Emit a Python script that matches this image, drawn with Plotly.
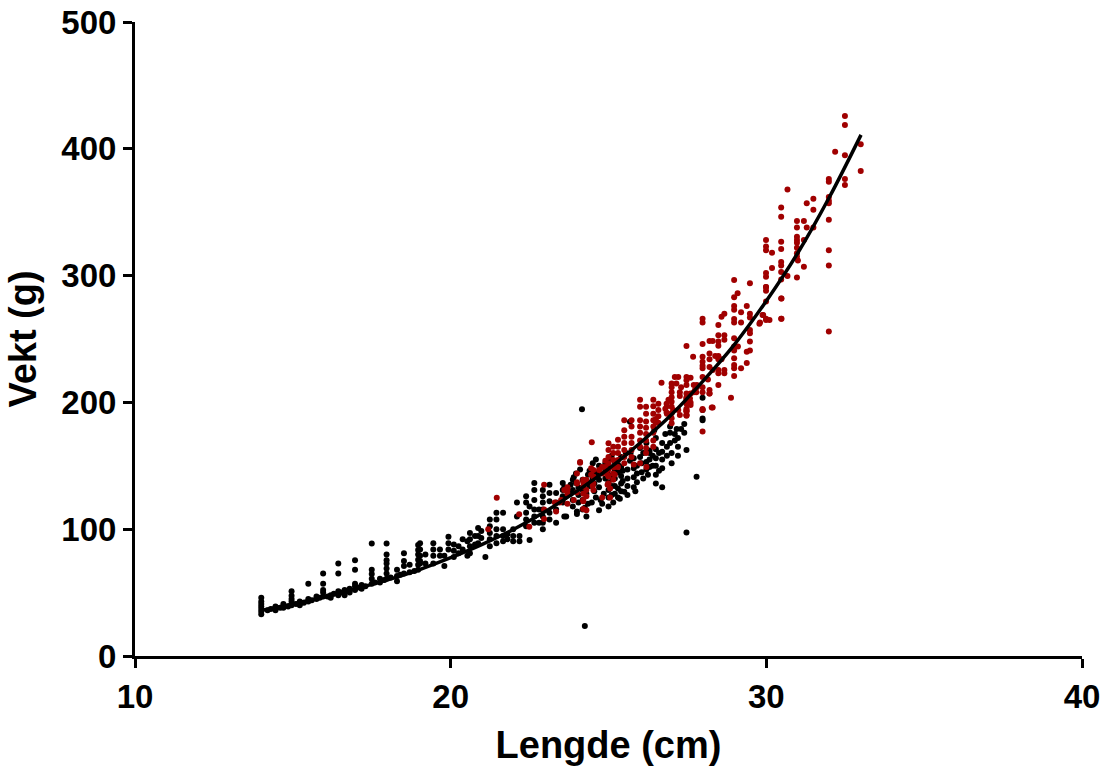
import plotly.graph_objects as go

# ---- data ----
black_len = [
    14.0, 14.0, 14.0, 14.0, 14.0, 14.0, 14.0,
    14.2, 14.3, 14.45, 14.45, 14.6, 14.7, 14.7, 14.85,
    14.96, 14.96, 14.96, 14.96, 14.96,
    15.1, 15.22, 15.22, 15.35, 15.49, 15.49, 15.49, 15.6,
    15.75, 15.75, 15.85, 15.96, 15.96, 15.96, 15.96, 15.96,
    16.1, 16.2, 16.2, 16.3, 16.44, 16.44, 16.44, 16.44, 16.55,
    16.64, 16.64, 16.8, 16.8, 16.97, 16.97, 16.97, 16.97, 16.97,
    17.1, 17.18, 17.18, 17.3, 17.5, 17.5, 17.5, 17.5, 17.5,
    17.6, 17.76, 17.76, 17.9, 17.97, 17.97, 17.97, 17.97, 17.97, 17.97, 17.97,
    18.1, 18.3, 18.3, 18.3, 18.4, 18.52, 18.52, 18.52, 18.52, 18.7, 18.7,
    18.85, 18.97, 18.97, 18.97, 18.97, 18.97, 18.97, 19.2, 19.2,
    19.03, 19.03, 19.03, 19.03, 19.03,
    19.45, 19.45, 19.45, 19.45,
    19.66, 19.66, 19.8, 19.8,
    19.93, 19.93, 19.93,
    20.1, 20.1, 20.1, 20.25, 20.25, 20.38, 20.38,
    20.53, 20.53, 20.61, 20.61, 20.61, 20.61,
    20.77, 20.77, 20.87, 20.87, 20.87, 20.97, 20.97,
    21.1, 21.24, 21.24, 21.24, 21.24, 21.24,
    21.45, 21.45, 21.45, 21.45, 21.45,
    21.66, 21.66, 21.66, 21.66, 21.8, 21.8,
    21.98, 21.98, 21.98, 22.1, 22.1, 22.18, 22.18,
    22.39, 22.39, 22.39, 22.39, 22.39, 22.5, 22.5,
    22.65, 22.65, 22.65, 22.65, 22.65, 22.65,
    22.8, 22.8,
    22.92, 22.92, 22.92, 22.92, 22.92, 22.92, 22.92,
    23.13, 23.13, 23.13, 23.13, 23.13,
    23.34, 23.34, 23.34, 23.34,
    23.55, 23.55, 23.55, 23.55, 23.66,
    23.87, 23.87, 23.87, 23.87, 23.97, 23.97,
    24.18, 24.18, 24.18, 24.18, 24.16,
    24.25,
    24.3, 24.0, 24.0, 23.6, 24.25, 24.47, 24.7, 24.8,
    24.3, 24.4, 24.4, 24.5, 24.5, 24.6, 24.7, 24.7, 24.7, 24.7,
    24.85, 25.0, 25.0, 25.0, 25.0, 25.0, 25.0, 25.0,
    25.15, 25.2, 25.2, 25.2, 25.2, 25.2,
    25.36, 25.4, 25.4, 25.4, 25.4, 25.4,
    25.5, 25.6, 25.6, 25.6, 25.6, 25.68, 25.68, 25.7,
    25.85, 25.9, 25.9, 25.9, 26.0, 26.0,
    26.1, 26.2, 26.2, 26.3, 26.3, 26.3, 26.3, 26.2,
    26.5, 26.7, 26.5, 26.5, 26.5, 26.5, 26.5, 26.45,
    26.7, 26.7, 26.7, 26.7,
    26.95, 26.95, 26.95, 27.0, 27.0,
    27.16, 27.2, 27.2, 27.2, 27.3,
    27.47, 27.47, 27.79,
    27.98, 27.98, 27.98, 27.98,
    23.6, 23.6, 23.8, 23.8, 23.9, 24.05, 24.05, 24.05, 24.1,
    24.35, 24.35, 24.35, 24.55, 24.55, 24.6, 24.6, 24.75,
    24.9, 24.9, 24.9, 25.1, 25.1, 25.1, 25.1,
    25.3, 25.3, 25.3, 25.3, 25.45, 25.45, 25.55,
    25.8, 25.8, 25.8, 25.8, 26.05, 26.05, 26.1, 26.25,
    26.4, 26.4, 26.6, 26.6, 26.85, 26.85, 27.1, 27.1, 26.8, 27.4, 27.4,
]
black_wt = [
    33, 35, 37, 39, 41, 43, 46,
    36, 37, 36, 39, 38, 38, 41, 39,
    40, 43, 45, 47.5, 51,
    41, 40, 43, 42, 43, 45, 57, 44,
    45, 47, 46, 47, 50, 52, 57, 65,
    47, 46, 48, 49, 48, 51, 65, 73, 50,
    48, 52, 50, 53, 52, 55, 57, 68, 75.5,
    54, 53, 56, 55, 57, 61, 64.7, 68, 88.8,
    58, 58, 61, 60, 61, 65, 69, 73, 75.6, 80, 88.8,
    62, 59, 63, 68, 64, 65, 71, 75, 81, 66, 72,
    67, 68, 72, 76, 80, 83.6, 87.5, 73, 80,
    73, 75, 79, 84, 89,
    73, 79, 84, 89,
    79, 84, 71, 79,
    84, 89, 94,
    78, 83, 88, 81, 86.6, 84, 92,
    79, 90.5, 81, 86.6, 92, 97,
    88, 94.6, 89, 94.6, 101, 93, 98.5,
    78, 86.6, 92, 97, 102.4, 107.6,
    89, 94.6, 100, 107.6, 113,
    90.5, 94.6, 100, 113, 92, 96,
    90.5, 94.6, 100, 110, 121, 90.5, 94.6,
    102.4, 107.6, 113, 121, 126, 118, 91.5,
    105, 110, 115.6, 123, 131, 136.5,
    105, 115.6,
    100, 105, 110, 115.6, 121, 126, 131,
    107.6, 113, 122, 128.5, 135,
    105, 115.6, 121, 128.5,
    121, 126, 131, 136.5, 110,
    118, 123, 131, 139, 136.5, 144,
    115.6, 123, 131, 139, 194.6,
    23.7,
    110, 112, 114, 110, 117, 121, 115, 120,
    128, 134, 146, 140, 152, 125, 133, 139, 145, 150,
    128, 118, 125, 131, 137, 143, 148, 155,
    121, 128, 134, 140, 146, 153,
    124, 130, 136, 142, 149, 157,
    129.5, 127, 134, 140, 147, 154, 184.8, 160,
    130, 137, 144, 150, 157, 164,
    140, 147, 153, 149, 155, 160, 162, 168,
    136, 133, 143, 150, 156, 163, 172, 178,
    148, 155, 161, 168,
    168, 176, 181, 152, 160,
    179, 158, 165, 172, 179,
    162.5, 97.3, 141.4,
    186, 187.4, 194, 203.7,
    125, 133, 128, 135, 141, 121, 127, 133, 147,
    120, 137, 143, 130, 136, 144, 155, 123,
    140, 146, 152, 127, 134, 141, 158,
    125, 132, 145, 151, 138, 146, 160,
    133, 141, 148, 156, 145, 152, 160, 143,
    150, 158, 146, 160, 158, 165, 170, 175, 175, 176, 183,
]

red_len = [
    21.46, 21.19, 22.17, 22.49,
    22.96, 22.96, 22.96, 23.3, 23.45, 23.34, 23.6, 23.7,
    24.0, 24.0, 24.0, 23.9, 24.1, 24.2, 24.2, 24.2, 24.3, 24.3, 24.3, 24.3,
    24.45, 24.45, 24.5, 24.8, 24.8, 24.8, 24.9, 24.9, 24.97, 24.97, 25.2, 25.2,
    23.5, 23.7, 23.7, 23.7, 24.0, 24.1, 24.2, 24.2, 24.2, 24.2,
    24.47, 24.52, 24.52, 24.52, 24.52, 24.7,
    25.0, 25.0, 25.0, 25.0, 25.0, 25.0, 25.0, 25.05, 25.05,
    25.15, 25.15, 25.15, 25.15, 25.15, 25.15,
    25.3, 25.3, 25.3, 25.3, 25.3,
    25.5, 25.5, 25.5, 25.5, 25.5, 25.5, 25.5,
    25.73, 25.73, 25.73, 25.73, 25.73, 25.73, 25.8,
    26.0, 26.0, 26.0, 26.0, 26.0, 26.0, 26.0, 26.0,
    26.19, 26.19, 26.19, 26.19, 26.19, 26.19, 26.19, 26.19, 26.2,
    26.42, 26.42, 26.42, 26.42, 26.42, 26.42, 26.42, 26.42,
    26.58, 26.58, 26.58, 26.58,
    26.9, 26.85, 26.85,
    27.47, 27.47, 27.47, 27.98, 27.98,
    26.68, 27.0, 27.0, 27.0, 27.0, 27.0, 27.0, 27.0, 27.0, 27.0,
    27.15, 27.21, 27.1, 27.3, 27.26,
    27.47, 27.47, 27.47, 27.47, 27.47, 27.6, 27.6,
    27.74, 27.7, 27.8, 28.2,
    26.84, 26.8, 26.84, 26.5, 26.5,
    27.21, 27.05, 27.26,
    28.27, 28.88,
    28.98, 29.48, 29.99, 28.98, 29.09, 28.98, 28.98, 29.38, 29.2, 29.48, 29.48,
    28.67, 28.58, 28.48, 27.98, 27.98, 28.98, 28.98, 29.2, 29.48, 29.48, 29.78,
    29.99, 30.48, 29.88, 30.48,
    28.48, 28.67, 28.67, 28.48, 28.48, 28.2, 28.3, 27.98, 27.47,
    28.98, 28.98, 29.1, 29.48, 29.48, 29.38, 28.98, 28.98,
    28.48, 28.48, 28.58, 28.38, 28.2, 28.2, 27.98, 27.98, 27.98, 27.98, 27.68,
    28.98, 28.98, 29.2, 29.38,
    28.48, 28.48, 28.67, 28.67, 28.3, 28.2,
    28.98, 27.98, 28.15, 27.47, 27.6, 27.47,
    27.98, 27.98, 27.47, 27.7, 27.8, 28.2, 28.2, 28.48, 27.78, 27.6, 27.58, 27.47, 27.26,
    27.98, 28.3, 27.47, 27.47, 27.47,
    32.49, 32.49, 32.18, 32.49, 32.99, 32.99, 32.49, 32.49,
    31.98, 31.98, 31.98, 31.98, 31.98, 31.98, 31.98, 31.98, 31.98,
    30.67, 31.28, 31.49, 31.49, 30.97, 31.19, 30.97, 31.28, 31.49,
    30.97, 30.97, 30.97, 31.19, 30.97, 30.97, 30.97, 31.0, 31.19, 30.97,
    30.47, 30.47, 30.47, 30.47, 30.47, 30.47, 30.47, 30.47, 30.47, 30.47,
    30.67, 30.18, 30.18,
    29.99, 29.99, 29.99, 29.99, 29.99, 29.99, 29.99, 29.99, 29.99,
    30.1, 29.9, 29.8,
]
red_wt = [
    124.8, 100, 111.7, 102,
    135, 115.6, 108, 121, 121, 114, 131, 133,
    137, 129, 144, 123, 153, 137, 122, 116, 131, 115, 139, 126,
    148, 143, 134, 149, 144, 125, 154, 149, 143, 135, 149, 143,
    123, 120, 128, 131, 136, 152.5, 139, 133.6, 128, 123,
    168.6, 146.7, 141.5, 136, 131, 146.7,
    167.8, 162.5, 157, 152, 147, 141.5, 136, 132, 125,
    165, 160, 154.6, 149, 144, 139,
    170.5, 165, 160, 154.6, 149,
    186, 178, 173, 168, 162.5, 157, 152,
    186, 181, 173, 168, 162.5, 157, 151,
    202, 196.6, 186, 181, 176, 170, 165, 152,
    196.6, 191, 185, 180, 175, 170, 164, 160, 149,
    202, 197, 191, 186, 181, 176, 170, 165,
    199, 194, 189, 184,
    202, 197, 191,
    202, 194, 190, 194, 177,
    215.5, 215, 212, 208, 204, 200.6, 196.6, 191.4, 187.5, 183.5,
    215, 220, 220, 212, 205,
    207, 203, 199, 193, 190, 200, 198,
    209.8, 208, 212, 207,
    199, 195, 192, 187, 184,
    194, 194, 190,
    196, 203.7,
    296.5, 294, 291, 283, 286, 276, 273, 276, 271, 270, 267,
    270, 267.6, 261, 266, 263, 265.8, 263, 263, 257, 254.6, 262,
    266, 266, 269, 282,
    253, 253, 249.5, 248, 244.7, 248.4, 248.4, 246, 244.5,
    250.5, 244, 244, 248, 241, 240, 241, 234.8,
    236.6, 234, 234, 236.6, 238.6, 234, 236, 232, 229, 227, 236,
    229.5, 227, 227, 231,
    225.5, 223, 225.5, 223, 225.5, 228,
    220.8, 220, 218, 220, 219.5, 217.5,
    212, 208, 213.7, 213.7, 213.7, 209.8, 207, 213.7, 208, 207, 203, 204, 208,
    194.8, 196, 195, 193, 189.5,
    425.9, 418.8, 397.7, 395, 403.5, 382.5, 376.2, 371.5,
    376.2, 374, 362, 359, 357, 344, 320, 308, 256,
    368, 357, 360.6, 352, 343, 343, 338, 338, 338,
    330.7, 328, 326, 328, 322, 317.6, 315, 312, 307, 298.6,
    353.8, 346.5, 326.7, 321, 310.7, 308, 302.8, 297, 282, 266,
    299.7, 318, 306,
    328, 323, 320, 302, 299, 291, 288, 279.5, 265,
    265, 269, 263,
]

# fitted curve at whole centimetres
fit_len = [14, 15, 16, 17, 18, 19, 20, 21, 22, 23, 24, 25, 26, 27, 28, 29, 30, 31, 32, 33]
fit_wt = [36, 41, 46.5, 53, 60, 68, 77.5, 88, 100, 114, 130, 147.5, 168, 190.5, 217, 246, 280, 318, 362, 411]

x_ticks = [10, 20, 30, 40]
y_ticks = [0, 100, 200, 300, 400, 500]

RED = "#A00000"
FONT = "Liberation Sans, Arial, sans-serif"

fig = go.Figure()
fig.add_trace(go.Scatter(x=black_len, y=black_wt, mode="markers",
                         marker=dict(color="black", size=6, line=dict(width=0)),
                         showlegend=False, hoverinfo="x+y"))
fig.add_trace(go.Scatter(x=red_len, y=red_wt, mode="markers",
                         marker=dict(color=RED, size=6, line=dict(width=0)),
                         showlegend=False, hoverinfo="x+y"))
fig.add_trace(go.Scatter(x=fit_len, y=fit_wt, mode="lines",
                         line=dict(color="black", width=3.5, shape="spline"),
                         showlegend=False, hoverinfo="skip"))

axis_common = dict(
    showline=True, linecolor="black", linewidth=3,
    ticks="outside", ticklen=9, tickwidth=3, tickcolor="black",
    showgrid=False, zeroline=False, automargin=False,
    tickfont=dict(family=FONT, size=33, color="black", weight="bold"),
)

fig.update_xaxes(range=[10, 40], tickvals=x_ticks,
                 title=dict(text="Lengde (cm)", standoff=18,
                            font=dict(family=FONT, size=38, color="black", weight="bold")),
                 **axis_common)
fig.update_yaxes(range=[0, 500], tickvals=y_ticks,
                 title=dict(text="Vekt (g)", standoff=14,
                            font=dict(family=FONT, size=38, color="black", weight="bold")),
                 **axis_common)

fig.update_layout(
    width=1109, height=769,
    margin=dict(l=135, r=27, t=22, b=113),
    plot_bgcolor="white", paper_bgcolor="white",
)

fig.write_html("out.html")
